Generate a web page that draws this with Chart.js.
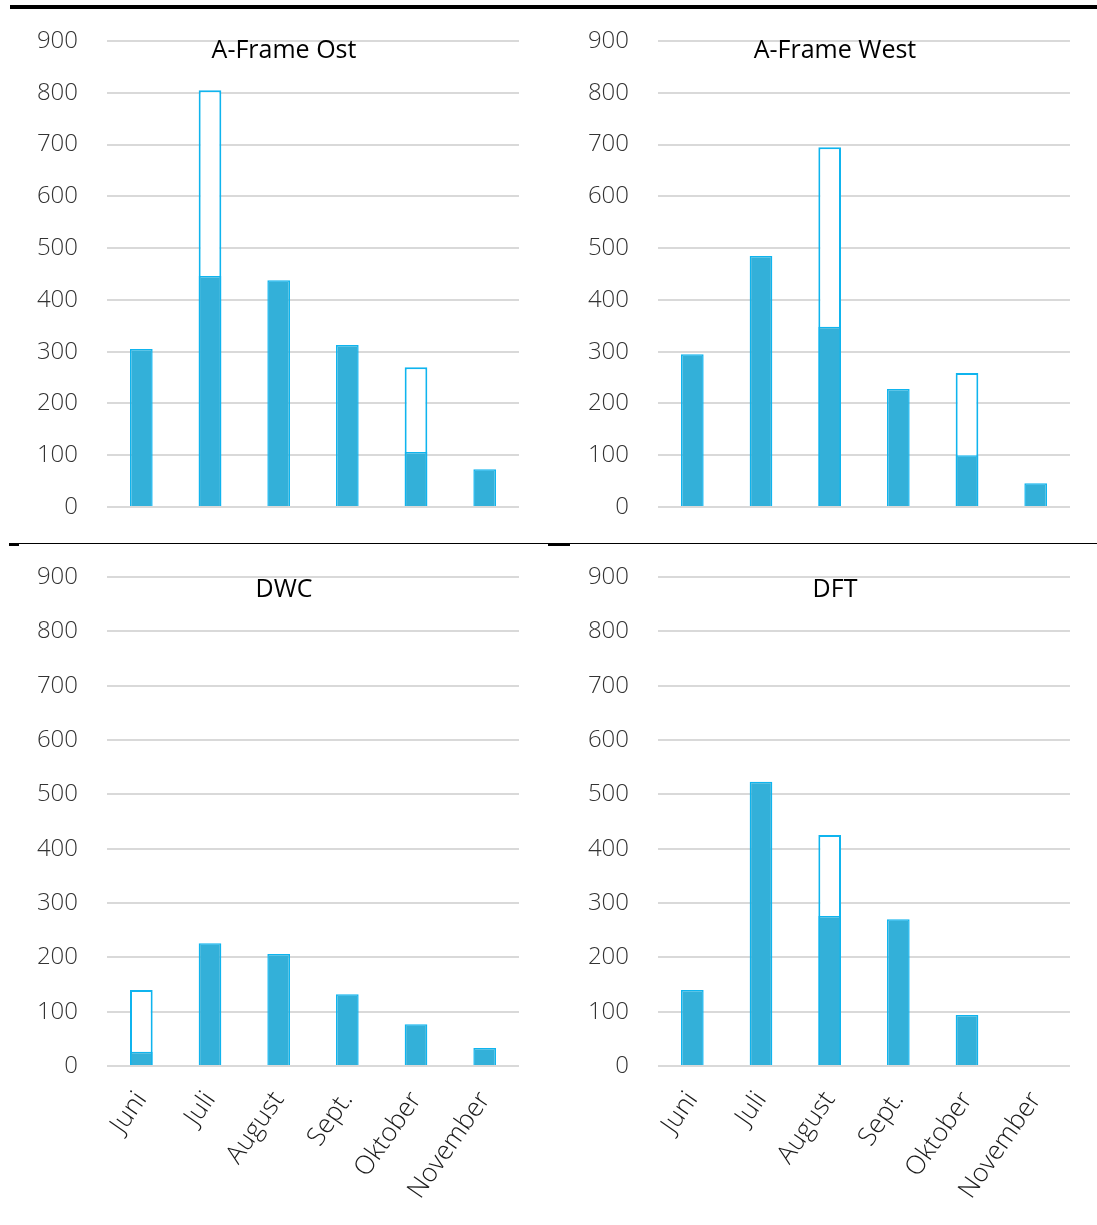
<!DOCTYPE html>
<html>
<head>
<meta charset="utf-8">
<script src="https://cdn.jsdelivr.net/npm/chart.js@4.4.1/dist/chart.umd.min.js"></script>
<style>
  html, body { margin: 0; padding: 0; background: #fff; overflow: hidden; }
  body { width: 1097px; height: 1225px; position: relative; }
  .panel { position: absolute; }
  .rule { position: absolute; background: #000; }
</style>
</head>
<body>
<div class="rule" style="left:10px; top:5px; width:1087px; height:4px;"></div>
<div class="rule" style="left:9px; top:543px; width:1088px; height:1px;"></div>
<div class="rule" style="left:9px; top:543px; width:10px; height:3px;"></div>
<div class="rule" style="left:548px; top:543px; width:22px; height:3px;"></div>

<div class="panel" style="left:0px; top:13px; width:548px; height:527px;"><canvas id="c1"></canvas></div>
<div class="panel" style="left:551px; top:13px; width:546px; height:527px;"><canvas id="c2"></canvas></div>
<div class="panel" style="left:0px; top:549px; width:548px; height:676px;"><canvas id="c3"></canvas></div>
<div class="panel" style="left:551px; top:549px; width:546px; height:676px;"><canvas id="c4"></canvas></div>

<script>
// Months on the category axis
const months = ['Juni', 'Juli', 'August', 'Sept.', 'Oktober', 'November'];
const yTicks = [0, 100, 200, 300, 400, 500, 600, 700, 800, 900];

// Filled part of each bar
const aframeOstFilled  = [305, 446, 438, 313, 106, 73];
const aframeWestFilled = [295, 485, 348, 228, 100, 46];
const dwcFilled        = [26, 226, 206, 132, 77, 33];
const dftFilled        = [140, 523, 276, 270, 94, 0];

// Total height of the outlined bars (null where there is none)
const aframeOstTotal  = [null, 805, null, null, 270, null];
const aframeWestTotal = [null, null, 695, null, 259, null];
const dwcTotal        = [140, null, null, null, null, null];
const dftTotal        = [null, null, 425, null, null, null];

const FILL = '#33b0d9';
const EDGE = '#0fb4ee';
const GRID = '#d9d9d9';

// Panel heading drawn inside the plot area
const panelTitle = {
  id: 'panelTitle',
  afterDraw(chart, args, opts) {
    const ctx = chart.ctx;
    const a = chart.chartArea;
    ctx.save();
    ctx.font = '400 25px "Open Sans", sans-serif';
    ctx.fillStyle = '#000';
    ctx.textAlign = 'center';
    ctx.textBaseline = 'alphabetic';
    ctx.fillText(opts.text, a.left + opts.dx, a.top + opts.dy);
    ctx.restore();
  }
};

function makeChart(id, title, filled, total, showX, titleDy) {
  new Chart(document.getElementById(id), {
    type: 'bar',
    data: {
      labels: months,
      datasets: [
        {
          data: filled,
          backgroundColor: FILL,
          borderColor: EDGE,
          borderWidth: 1.5,
          barPercentage: 0.33,
          categoryPercentage: 1
        },
        {
          data: total,
          backgroundColor: '#ffffff',
          borderColor: EDGE,
          borderWidth: 2,
          barPercentage: 0.33,
          categoryPercentage: 1
        }
      ]
    },
    options: {
      responsive: true,
      maintainAspectRatio: false,
      animation: false,
      events: [],
      layout: { padding: { top: 28, right: id === 'c2' || id === 'c4' ? 27 : 29, bottom: 0, left: 0 } },
      plugins: {
        legend: { display: false },
        tooltip: { enabled: false },
        title: { display: false },
        panelTitle: { text: title, dx: 177, dy: titleDy }
      },
      scales: {
        x: {
          stacked: true,
          grid: { display: false },
          border: { display: false },
          ticks: {
            display: showX,
            color: '#1a1a1a',
            font: { family: '"Open Sans", sans-serif', size: 26, weight: 300 },
            minRotation: 55,
            maxRotation: 55,
            padding: 12
          },
          afterFit(scale) { scale.height = showX ? 159 : 33; }
        },
        y: {
          stacked: false,
          min: 0,
          max: 900,
          afterBuildTicks(scale) { scale.ticks = yTicks.map(v => ({ value: v })); },
          grid: { color: GRID, lineWidth: 2, drawTicks: true, tickLength: 29, tickColor: 'rgba(0,0,0,0)' },
          border: { display: false },
          ticks: {
            color: '#333333',
            font: { family: '"Open Sans", sans-serif', size: 24, weight: 300 },
            padding: 0
          },
          afterFit(scale) { scale.width = 107; }
        }
      }
    },
    plugins: [panelTitle]
  });
}

makeChart('c1', 'A-Frame Ost', aframeOstFilled, aframeOstTotal, false, 17);
makeChart('c2', 'A-Frame West', aframeWestFilled, aframeWestTotal, false, 17);
makeChart('c3', 'DWC', dwcFilled, dwcTotal, true, 20);
makeChart('c4', 'DFT', dftFilled, dftTotal, true, 20);
</script>
</body>
</html>
